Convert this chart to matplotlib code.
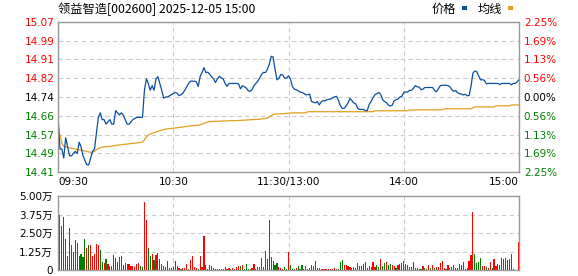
import numpy as np
import matplotlib
matplotlib.use("Agg")
import matplotlib.pyplot as plt
from matplotlib.patches import Rectangle

title = "领益智造[002600] 2025-12-05 15:00"
prev_close = 14.74
pct_levels = [-2.25, -1.69, -1.13, -0.56, 0.0, 0.56, 1.13, 1.69, 2.25]
time_labels = ["09:30", "10:30", "11:30/13:00", "14:00", "15:00"]
time_pos = [0, 60, 120, 180, 240]
vol_ticks = [0, 1.25, 2.5, 3.75, 5.0]
vol_labels = ["0", "1.25万", "2.50万", "3.75万", "5.00万"]

# one value per minute, 09:30 .. 15:00
price = [
    14.66, 14.51, 14.51, 14.47, 14.56, 14.52, 14.48, 14.48, 14.49, 14.50,
    14.49, 14.54, 14.52, 14.48, 14.46, 14.44, 14.44, 14.47, 14.50, 14.51,
    14.58, 14.65, 14.67, 14.64, 14.64, 14.62, 14.63, 14.64, 14.62, 14.62,
    14.68, 14.67, 14.66, 14.67, 14.66, 14.64, 14.62, 14.62, 14.63, 14.64,
    14.645, 14.65, 14.65, 14.65, 14.65, 14.77, 14.82, 14.80, 14.77, 14.79,
    14.77, 14.82, 14.83, 14.80, 14.77, 14.735, 14.74, 14.74, 14.745, 14.75,
    14.755, 14.76, 14.757, 14.746, 14.75, 14.757, 14.77, 14.785, 14.80, 14.81,
    14.81, 14.81, 14.807, 14.787, 14.83, 14.849, 14.87, 14.848, 14.85, 14.84,
    14.829, 14.82, 14.804, 14.82, 14.832, 14.824, 14.82, 14.80, 14.787, 14.80,
    14.80, 14.80, 14.80, 14.80, 14.798, 14.776, 14.79, 14.785, 14.78, 14.768,
    14.765, 14.772, 14.79, 14.80, 14.81, 14.824, 14.84, 14.849, 14.848, 14.862,
    14.885, 14.92, 14.917, 14.862, 14.816, 14.823, 14.84, 14.837, 14.823, 14.824,
    14.833, 14.82, 14.787, 14.775, 14.772, 14.768, 14.762, 14.76, 14.756, 14.75,
    14.75, 14.753, 14.72, 14.717, 14.714, 14.72, 14.705, 14.718, 14.724, 14.723,
    14.728, 14.73, 14.731, 14.736, 14.741, 14.743, 14.725, 14.702, 14.69, 14.69,
    14.70, 14.714, 14.734, 14.724, 14.714, 14.71, 14.69, 14.685, 14.685, 14.685,
    14.68, 14.68, 14.707, 14.72, 14.737, 14.75, 14.755, 14.76, 14.752, 14.728,
    14.72, 14.715, 14.704, 14.70, 14.704, 14.723, 14.728, 14.731, 14.74, 14.743,
    14.76, 14.762, 14.762, 14.769, 14.769, 14.778, 14.79, 14.785, 14.784, 14.772,
    14.775, 14.782, 14.782, 14.782, 14.782, 14.782, 14.77, 14.763, 14.776, 14.79,
    14.792, 14.792, 14.792, 14.79, 14.785, 14.773, 14.765, 14.769, 14.759, 14.755,
    14.753, 14.749, 14.752, 14.746, 14.746, 14.787, 14.845, 14.855, 14.852, 14.833,
    14.816, 14.816, 14.814, 14.798, 14.80, 14.80, 14.80, 14.80, 14.80, 14.80,
    14.795, 14.80, 14.80, 14.80, 14.80, 14.80, 14.794, 14.80, 14.80, 14.807,
    14.816,
]

avg = [
    14.61, 14.57, 14.535, 14.522, 14.52, 14.518, 14.515, 14.513, 14.511, 14.51,
    14.508, 14.507, 14.505, 14.503, 14.501, 14.499, 14.497, 14.496, 14.496, 14.50,
    14.507, 14.513, 14.516, 14.518, 14.519, 14.52, 14.521, 14.522, 14.523, 14.524,
    14.526, 14.527, 14.528, 14.529, 14.53, 14.531, 14.532, 14.533, 14.534, 14.535,
    14.536, 14.537, 14.538, 14.539, 14.54, 14.55, 14.563, 14.572, 14.576, 14.579,
    14.582, 14.585, 14.588, 14.591, 14.594, 14.596, 14.598, 14.599, 14.60, 14.601,
    14.602, 14.603, 14.604, 14.605, 14.606, 14.607, 14.609, 14.61, 14.611, 14.612,
    14.613, 14.614, 14.614, 14.615, 14.617, 14.62, 14.624, 14.627, 14.63, 14.631,
    14.631, 14.632, 14.632, 14.633, 14.633, 14.633, 14.634, 14.634, 14.634, 14.635,
    14.635, 14.635, 14.636, 14.636, 14.636, 14.637, 14.637, 14.638, 14.638, 14.639,
    14.639, 14.64, 14.64, 14.641, 14.641, 14.642, 14.643, 14.644, 14.645, 14.647,
    14.652, 14.658, 14.663, 14.664, 14.665, 14.665, 14.666, 14.666, 14.667, 14.668,
    14.668, 14.669,
] + [14.670] * 8 + [14.675] * 35 + [14.679] * 18 + [14.683] * 18 \
  + [14.688] * 15 + [14.692] + [14.696] * 11 + [14.701] * 8 + [14.705] * 5

# volume in 万, r = up tick, g = down tick
vol = [
    0, 3.72, 2.97, 3.60, 2.09, 0.95, 2.86, 1.69, 1.24, 2.03,
    1.85, 0.97, 1.08, 0.90, 2.09, 1.51, 1.69, 1.69, 0.97, 1.08,
    1.76, 1.69, 1.35, 0.56, 0.50, 0.74, 0.41, 0.27, 0.27, 1.01,
    0.79, 0.54, 0.86, 0.95, 0.34, 0.47, 0.38, 0.41, 0.27, 0.25,
    0.18, 0.41, 0.47, 0.27, 0.18, 4.59, 3.38, 1.49, 0.95, 1.08,
    0.68, 1.01, 1.15, 0.74, 0.41, 0.25, 0.20, 0.61, 0.14, 0.14,
    0.20, 0.61, 0.27, 0.14, 0.07, 0.14, 0.14, 0.41, 0.09, 0.68,
    0.95, 0.18, 0.14, 0.07, 0.95, 0.18, 2.30, 0.32, 0.09, 0.32,
    0.25, 0.14, 0.07, 0.07, 0.07, 0.07, 0.07, 0.18, 0.07, 0.14,
    0.07, 0.14, 0.07, 0.23, 0.27, 0.27, 0.34, 0.07, 0.41, 0.07,
    0.07, 0.14, 0.41, 0.09, 0.20, 0.20, 0.79, 0.18, 1.28, 0.74,
    3.38, 0.88, 0.61, 0.34, 0.47, 0.20, 0.14, 0.07, 0.20, 0.10,
    1.24, 0.34, 0.07, 0.07, 0.11, 0.27, 0.07, 0.34, 0.07, 0.27,
    0.07, 0.16, 0.34, 0.27, 0.61, 0.14, 0.14, 0.07, 0.07, 0.07,
    0.07, 0.07, 0.07, 0.07, 0.14, 0.07, 0.07, 0.54, 0.68, 0.34,
    0.34, 0.27, 0.20, 0.14, 0.20, 0.14, 0.47, 0.27, 0.27, 0.41,
    0.54, 0.14, 0.27, 0.20, 0.54, 0.20, 0.34, 0.20, 0.74, 0.27,
    0.47, 0.54, 0.34, 0.41, 0.34, 0.27, 0.14, 0.34, 0.41, 0.47,
    0.61, 0.41, 0.34, 0.20, 0.20, 0.54, 0.14, 0.14, 0.07, 0.07,
    0.27, 0.14, 0.07, 0.34, 0.14, 0.34, 0.14, 0.20, 0.20, 0.47,
    0.61, 0.14, 0.07, 0.34, 0.14, 0.20, 0.34, 0.14, 0.14, 0.41,
    0.34, 0.54, 0.07, 0.14, 0.61, 1.01, 3.92, 1.08, 0.47, 0.54,
    0.81, 0.27, 0.27, 0.20, 0.14, 0.54, 0.14, 0.74, 0.27, 0.41,
    0.34, 0.81, 0.74, 0.81, 0.68, 0.74, 1.08, 0.07, 0, 0,
    1.89,
]
tick_dir = (
    "rgrgrrgrrg" "rrgggrgrrr" "rrggrgrgrr" "rgrgrggrrr" "rrrggrrggr"
    "grrgggrrrr" "rrgrgrrrgr" "rrrgrrrggg" "ggggggggrr" "grrrrgrggg"
    "grrgrrrgrr" "rrgggrrrgg" "rgggrggggr" "ggrrgrgrrr" "rrrrrgrggr"
    "rrrgggrgrr" "rgrrrrggrg" "grggrrgrgr" "rrrrrrgggg" "rgrrgrgrrr"
    "rrgrgggrgg" "grgrrrrggg" "grrgrrgrrr" "grrrrrggrr" "r"
)

RED, GREEN, BLACK = "#ff0000", "#008000", "#000000"
BLUE, GOLD = "#0b4f9f", "#e0a020"
GRID = "#cccccc"
FRAME = "#999999"
plt.rcParams["font.family"] = ["DejaVu Sans", "Noto Sans CJK SC"]
cjk = ["Noto Sans CJK SC", "DejaVu Sans"]


def level_color(p):
    if p > 0:
        return RED
    if p < 0:
        return GREEN
    return BLACK


def style_frame(a):
    for s in a.spines.values():
        s.set_color(FRAME)
        s.set_linewidth(1.0)
    a.grid(True, color=GRID, linestyle=(0, (4, 3)), linewidth=0.8)
    a.set_axisbelow(True)
    a.set_xlim(0, 240)
    a.set_xticks(time_pos)


fig = plt.figure(figsize=(5.78, 2.76), dpi=100)
W, H = 578, 276
ax = fig.add_axes([58 / W, 1 - 172 / H, 461 / W, 150 / H])
axv = fig.add_axes([58 / W, 1 - 270 / H, 461 / W, 74 / H])

x = np.arange(len(price))
ax.plot(x, avg, color=GOLD, lw=0.9)
ax.plot(x, price, color=BLUE, lw=0.9)
style_frame(ax)

levels = [prev_close * (1 + p / 100) for p in pct_levels]
ax.set_ylim(levels[0], levels[-1])
ax.set_yticks(levels)
ax.set_yticklabels([f"{v:.2f}" for v in levels], fontsize=7.5)
for lab, p in zip(ax.get_yticklabels(), pct_levels):
    lab.set_color(level_color(p))
ax.tick_params(axis="y", length=0, pad=2.5)

ax.set_xticklabels(time_labels, fontsize=7.5)
for lab, ha in zip(ax.get_xticklabels(), ["left", "center", "center", "center", "right"]):
    lab.set_ha(ha)
ax.tick_params(axis="x", length=0, pad=3.5)

ax2 = ax.twinx()
ax2.set_ylim(levels[0], levels[-1])
ax2.set_yticks(levels)
ax2.set_yticklabels([f"{abs(p):.2f}%" for p in pct_levels], fontsize=7.5)
for lab, p in zip(ax2.get_yticklabels(), pct_levels):
    lab.set_color(level_color(p))
ax2.tick_params(axis="y", length=0, pad=3.5)
for s in ax2.spines.values():
    s.set_visible(False)

colors = [RED if d == "r" else GREEN for d in tick_dir]
axv.bar(x, vol, width=0.6, color=colors, linewidth=0, antialiased=False)
style_frame(axv)
axv.set_ylim(0, 5)
axv.set_yticks(vol_ticks)
axv.set_yticklabels(vol_labels, fontsize=7.5)
axv.tick_params(axis="y", length=0, pad=4)
axv.tick_params(axis="x", length=0, labelbottom=False)

fig.text(58 / W, 1 - 9 / H, title, fontsize=8.8, family=cjk, va="center", ha="left")
fig.text(432 / W, 1 - 9 / H, "价格", fontsize=8.8, family=cjk, va="center", ha="left")
fig.text(478 / W, 1 - 9 / H, "均线", fontsize=8.8, family=cjk, va="center", ha="left")
fig.add_artist(Rectangle((462 / W, 1 - 9.5 / H), 5 / W, 3 / H,
                         transform=fig.transFigure, color=BLUE, lw=0))
fig.add_artist(Rectangle((508 / W, 1 - 9.5 / H), 5 / W, 3 / H,
                         transform=fig.transFigure, color=GOLD, lw=0))

fig.savefig("out.png", dpi=100)
